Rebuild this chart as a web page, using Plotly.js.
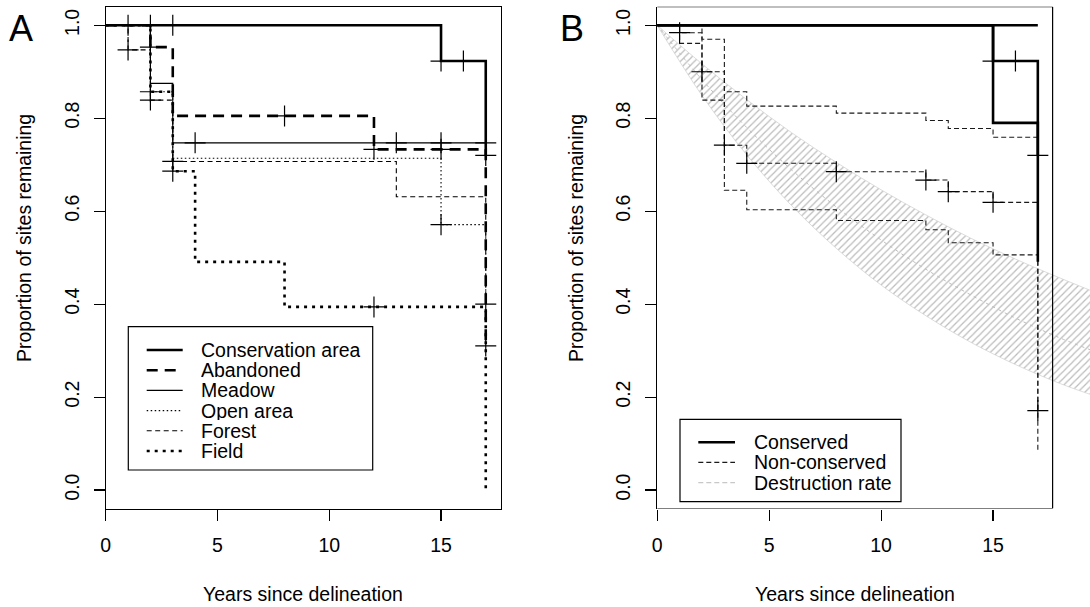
<!DOCTYPE html>
<html>
<head>
<meta charset="utf-8">
<script src="https://cdn.plot.ly/plotly-3.0.1.min.js"></script>
<style>html,body{margin:0;padding:0;background:#fff;}#chart{width:1090px;height:607px;}</style>
</head>
<body>
<div id="chart"></div>
<script>
// ---------- Panel A data (Kaplan–Meier step curves) ----------
const consT = [0, 15, 17];            const consS = [1, 0.923, 0.72];
const consCT = [1, 2, 3, 15, 16, 17];  const consCS = [1, 1, 1, 0.923, 0.923, 0.72];
const abanT = [0, 2, 3, 12, 17];       const abanS = [1, 0.953, 0.805, 0.733, 0.31];
const abanCT = [2, 8, 12, 15, 17];     const abanCS = [0.953, 0.805, 0.733, 0.733, 0.31];
const meadT = [0, 2, 3, 17];           const meadS = [1, 0.875, 0.747, 0.747];
const meadCT = [4, 13, 15, 17];        const meadCS = [0.747, 0.747, 0.747, 0.747];
const openT = [0, 2, 3, 15, 17];       const openS = [1, 0.857, 0.714, 0.571, 0.40];
const openCT = [15];                   const openCS = [0.571];
const forT = [0, 1, 2, 3, 13, 17];     const forS = [1, 0.947, 0.839, 0.707, 0.631, 0.42];
const forCT = [1, 2, 3];               const forCS = [0.947, 0.839, 0.707];
const fieldT = [0, 2, 3, 4, 8, 17];    const fieldS = [1, 0.857, 0.686, 0.491, 0.394, 0];
const fieldCT = [2, 3, 12, 17];        const fieldCS = [0.857, 0.686, 0.394, 0.40];
const legendA = ["Conservation area", "Abandoned", "Meadow", "Open area", "Forest", "Field"];

// ---------- Panel B data ----------
const conT = [0, 15, 17];   const conS = [1, 0.923, 0.72];
const conUT = [0, 17];      const conUS = [1, 1];
const conLT = [0, 15, 17];  const conLS = [1, 0.79, 0.491];
const conCT = [15, 16, 17]; const conCS = [0.923, 0.923, 0.72];
const nonT = [0, 1, 2, 3, 4, 8, 12, 13, 15, 17];
const nonS = [1, 0.984, 0.90, 0.742, 0.703, 0.685, 0.667, 0.642, 0.619, 0.171];
const nonUT = [0, 2, 3, 4, 8, 12, 13, 15, 17];
const nonUS = [1, 0.970, 0.857, 0.826, 0.811, 0.795, 0.778, 0.759, 0.52];
const nonLT = [0, 1, 2, 3, 4, 8, 12, 13, 15, 17];
const nonLS = [1, 0.961, 0.839, 0.645, 0.603, 0.58, 0.56, 0.532, 0.506, 0.08];
const nonCT = [1, 2, 3, 4, 8, 12, 13, 15, 17];
const nonCS = [0.984, 0.90, 0.742, 0.703, 0.685, 0.667, 0.642, 0.619, 0.171];
const rateT = [0, 2, 4, 6, 8, 10, 12, 14, 16, 18, 19.33];
const rateUp = [1.0, 0.917, 0.840, 0.769, 0.705, 0.646, 0.592, 0.542, 0.497, 0.456, 0.430];
const rateMid = [1.0, 0.883, 0.780, 0.689, 0.609, 0.538, 0.475, 0.420, 0.370, 0.327, 0.302];
const rateLo = [1.0, 0.849, 0.721, 0.612, 0.520, 0.441, 0.375, 0.318, 0.270, 0.229, 0.206];
const legendB = ["Conserved", "Non-conserved", "Destruction rate"];

const xTicks = [0, 5, 10, 15];
const yTicks = [0, 0.2, 0.4, 0.6, 0.8, 1.0];

// ---------- styles ----------
const W = 1090, H = 607;
const P = x => x / W, Q = y => 1 - y / H;
const FONT = "Liberation Sans, Arial, sans-serif";
const FS = 19.5;
const THICK = 2.6, THIN = 1.1;
const sty = {
  cons:  {width: THICK, dash: "solid", color: "#000"},
  aban:  {width: THICK, dash: "11px,7px", color: "#000"},
  mead:  {width: THIN,  dash: "solid", color: "#000"},
  open:  {width: THIN,  dash: "1.5px,2.5px", color: "#000"},
  forest:{width: THIN,  dash: "5px,3.5px", color: "#000"},
  field: {width: THICK, dash: "3px,5px", color: "#000"},
  con:   {width: THICK, dash: "solid", color: "#000"},
  non:   {width: THIN,  dash: "5px,3px", color: "#1a1a1a"},
  rate:  {width: THIN,  dash: "5px,3px", color: "#c8c8c8"}
};

function step(x, y, st, xa, ya) {
  return {x: x, y: y, mode: "lines", line: Object.assign({shape: "hv"}, st),
          xaxis: xa, yaxis: ya, showlegend: false, hoverinfo: "skip", type: "scatter"};
}
function cens(x, y, xa, ya) {
  return {x: x, y: y, mode: "markers", xaxis: xa, yaxis: ya, showlegend: false, hoverinfo: "skip",
          type: "scatter", cliponaxis: false,
          marker: {symbol: "cross-thin", size: 15, color: "#000", line: {width: 1.2, color: "#000"}}};
}

const traces = [
  // Panel B band first (background)
  {x: rateT, y: rateLo, mode: "lines", line: {color: "#d4d4d4", width: 0.8, shape: "spline"},
   xaxis: "x2", yaxis: "y2", showlegend: false, hoverinfo: "skip", type: "scatter"},
  {x: rateT, y: rateUp, mode: "lines", line: {color: "#d4d4d4", width: 0.8, shape: "spline"},
   fill: "tonexty", fillcolor: "rgba(0,0,0,0)",
   fillpattern: {shape: "/", fgcolor: "#bcbcbc", bgcolor: "rgba(255,255,255,0)", size: 5, solidity: 0.25},
   xaxis: "x2", yaxis: "y2", showlegend: false, hoverinfo: "skip", type: "scatter"},
  {x: rateT, y: rateMid, mode: "lines", line: {color: "#bdbdbd", width: 1, dash: "3px,4px", shape: "spline"},
   xaxis: "x2", yaxis: "y2", showlegend: false, hoverinfo: "skip", type: "scatter"},
  // Panel A
  step(meadT, meadS, sty.mead, "x", "y"),
  step(openT, openS, sty.open, "x", "y"),
  step(forT, forS, sty.forest, "x", "y"),
  step(fieldT, fieldS, sty.field, "x", "y"),
  step(abanT, abanS, sty.aban, "x", "y"),
  step(consT, consS, sty.cons, "x", "y"),
  cens(consCT, consCS, "x", "y"),
  cens(abanCT, abanCS, "x", "y"),
  cens(meadCT, meadCS, "x", "y"),
  cens(openCT, openCS, "x", "y"),
  cens(forCT, forCS, "x", "y"),
  cens(fieldCT, fieldCS, "x", "y"),
  // Panel B
  step(nonUT, nonUS, sty.non, "x2", "y2"),
  step(nonLT, nonLS, sty.non, "x2", "y2"),
  step(nonT, nonS, sty.non, "x2", "y2"),
  step(conUT, conUS, sty.con, "x2", "y2"),
  step(conLT, conLS, sty.con, "x2", "y2"),
  step(conT, conS, sty.con, "x2", "y2"),
  cens(conCT, conCS, "x2", "y2"),
  cens(nonCT, nonCS, "x2", "y2")
];

const axisFont = {family: FONT, size: FS, color: "#000"};
const yDom = [Q(508.6), Q(6.7)];
const xAx = (dom, rng) => ({domain: dom, range: rng, tickvals: xTicks, ticktext: xTicks.map(String),
  ticks: "outside", ticklen: 11, tickwidth: 1.1, tickcolor: "#000", showgrid: false, zeroline: false,
  tickfont: axisFont, ticklabelstandoff: 8, fixedrange: true});
const yAx = (anchor) => ({domain: yDom, range: [-0.04, 1.04], tickvals: yTicks, ticktext: yTicks.map(v => v.toFixed(1)),
  ticks: "outside", ticklen: 11, tickwidth: 1.1, tickcolor: "#000", showgrid: false, zeroline: false,
  tickangle: -90, tickfont: axisFont, ticklabelstandoff: 7, showline: true, linecolor: "#000", linewidth: 1.2,
  anchor: anchor, fixedrange: true});

const BR = 17.66; // right box edge (years)
const layout = {
  width: W, height: H, margin: {l: 0, r: 0, t: 0, b: 0}, paper_bgcolor: "#fff", plot_bgcolor: "#fff",
  showlegend: false, font: {family: FONT, size: FS, color: "#000"},
  xaxis: Object.assign(xAx([P(105.7), P(500.5)], [0, BR]), {showline: true, mirror: true, linecolor: "#000", linewidth: 1.2, anchor: "y"}),
  yaxis: Object.assign(yAx("x"), {mirror: true}),
  xaxis2: Object.assign(xAx([P(657.2), 1], [0, (W - 657.2) / 22.39]), {showline: false, anchor: "y2"}),
  yaxis2: yAx("x2"),
  shapes: [],
  annotations: []
};

// Panel B box (right edge inside the wider plotting area)
const boxLine = {color: "#000", width: 1.2};
layout.shapes.push({type: "line", xref: "x2", yref: "y2", x0: 0, x1: BR, y0: 1.04, y1: 1.04, line: boxLine, layer: "above"});
layout.shapes.push({type: "line", xref: "x2", yref: "y2", x0: 0, x1: BR, y0: -0.04, y1: -0.04, line: boxLine, layer: "above"});
layout.shapes.push({type: "line", xref: "x2", yref: "y2", x0: BR, x1: BR, y0: -0.04, y1: 1.04, line: boxLine, layer: "above"});

// Legends (drawn in pixel positions)
function legendBox(x0, y0, x1, y1) {
  layout.shapes.push({type: "rect", xref: "paper", yref: "paper", x0: P(x0), x1: P(x1), y0: Q(y1), y1: Q(y0),
    line: {color: "#000", width: 1.2}, fillcolor: "#fff", layer: "above"});
}
function legendItem(label, st, ly, lx0, lx1, tx) {
  layout.shapes.push({type: "line", xref: "paper", yref: "paper", x0: P(lx0), x1: P(lx1), y0: Q(ly), y1: Q(ly),
    line: {color: st.color, width: st.width, dash: st.dash}, layer: "above"});
  layout.annotations.push({xref: "paper", yref: "paper", x: P(tx), y: Q(ly), text: label, showarrow: false,
    xanchor: "left", yanchor: "middle", height: 18, valign: "middle",
    font: {family: FONT, size: FS, color: "#000"}, borderpad: 0});
}
legendBox(128.3, 326.7, 372.7, 470);
const stA = [sty.cons, sty.aban, sty.mead, sty.open, sty.forest, sty.field];
legendA.forEach((lab, i) => legendItem(lab, stA[i], 350 + i * 20.2, 146.7, 182.7, 199.5));
legendBox(680, 419.3, 901, 501.7);
const stB = [sty.con, sty.non, sty.rate];
legendB.forEach((lab, i) => legendItem(lab, stB[i], 442.2 + i * 20.2, 698.3, 735, 753));

// Titles and panel letters
function ann(text, x, y, opt) {
  layout.annotations.push(Object.assign({xref: "paper", yref: "paper", x: P(x), y: Q(y), text: text, showarrow: false,
    xanchor: "center", yanchor: "middle", font: {family: FONT, size: FS, color: "#000"}}, opt || {}));
}
ann("Years since delineation", 303, 594);
ann("Years since delineation", 854.5, 594);
ann("Proportion of sites remaining", 24, 238, {textangle: -90});
ann("Proportion of sites remaining", 576, 238, {textangle: -90});
ann("A", 21, 29, {font: {family: FONT, size: 36, color: "#000"}});
ann("B", 572, 29, {font: {family: FONT, size: 36, color: "#000"}});

Plotly.newPlot("chart", traces, layout, {staticPlot: true, displayModeBar: false});
</script>
</body>
</html>
